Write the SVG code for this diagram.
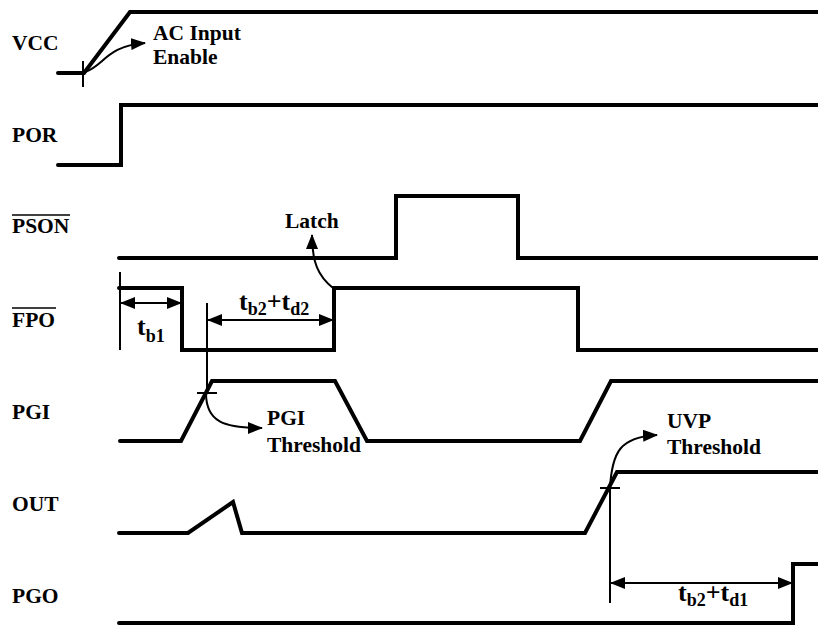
<svg xmlns="http://www.w3.org/2000/svg" width="818" height="626" viewBox="0 0 818 626">
<style>
.sig{fill:none;stroke:#000;stroke-width:4;stroke-linejoin:miter;stroke-linecap:round}
.thin{fill:none;stroke:#000;stroke-width:2}
.lbl{font-family:"Liberation Serif","Times New Roman",serif;font-weight:bold;font-size:21.5px;fill:#000}
.t{font-family:"Liberation Serif","Times New Roman",serif;font-weight:bold;font-size:26px;fill:#000}
.sub{font-size:18px}
</style>
<defs>
<marker id="ah" markerUnits="userSpaceOnUse" markerWidth="15" markerHeight="12" refX="14" refY="6" orient="auto-start-reverse">
<path d="M0,0 L15,6 L0,12 Z" fill="#000"/>
</marker>
</defs>
<rect width="818" height="626" fill="#fff"/>

<g id="VCC">
<text class="lbl" x="12" y="50">VCC</text>
<path class="sig" d="M58,73 L84,73 L130,12 L818,12"/>
</g>
<g id="POR">
<text class="lbl" x="12" y="142">POR</text>
<path class="sig" d="M58,165 L121,165 L121,105 L818,105"/>
</g>
<g id="PSON">
<text class="lbl" x="12" y="233">PSON</text>
<line x1="12" y1="215" x2="70" y2="215" stroke="#000" stroke-width="1.5"/>
<path class="sig" d="M119,258 L396,258 L396,196 L518,196 L518,258 L818,258"/>
</g>
<g id="FPO">
<text class="lbl" x="12" y="327">FPO</text>
<line x1="12" y1="308" x2="56" y2="308" stroke="#000" stroke-width="1.5"/>
<path class="sig" d="M119,288 L182,288 L182,350 L334,350 L334,288 L578,288 L578,350 L818,350"/>
</g>
<g id="PGI">
<text class="lbl" x="12" y="419">PGI</text>
<path class="sig" d="M120,441 L181,441 L212,381 L335,381 L367,441 L580,441 L611,381 L818,381"/>
</g>
<g id="OUT">
<text class="lbl" x="12" y="511">OUT</text>
<path class="sig" d="M119,533 L188,533 L233,502 L242,533 L585,533 L617,472 L818,472"/>
</g>
<g id="PGO">
<text class="lbl" x="12" y="603">PGO</text>
<path class="sig" d="M119,623 L793,623 L793,564 L818,564"/>
</g>

<g id="connectors">
<line class="thin" x1="83" y1="61" x2="83" y2="87"/>
<path class="thin" d="M85,72 C104,66 106,46 145,43" marker-end="url(#ah)"/>
<line class="thin" x1="120" y1="272" x2="120" y2="350"/>
<line class="thin" x1="121" y1="303" x2="181" y2="303" marker-start="url(#ah)" marker-end="url(#ah)"/>
<line class="thin" x1="207" y1="303" x2="207" y2="393"/>
<line class="thin" x1="208" y1="320" x2="333" y2="320" marker-start="url(#ah)" marker-end="url(#ah)"/>
<path class="thin" d="M333,288 C318,276 312,262 312,235" marker-end="url(#ah)"/>
<line class="thin" x1="197" y1="393" x2="217" y2="393"/>
<path class="thin" d="M206,393 C206,422 224,428 262,428" marker-end="url(#ah)"/>
<line class="thin" x1="600" y1="488" x2="620" y2="488"/>
<line class="thin" x1="610" y1="488" x2="610" y2="603"/>
<path class="thin" d="M610,488 C612,452 620,437 657,435" marker-end="url(#ah)"/>
<line class="thin" x1="611" y1="583" x2="792" y2="583" marker-start="url(#ah)" marker-end="url(#ah)"/>
</g>

<g id="labels">
<text class="lbl" x="153" y="40">AC Input</text>
<text class="lbl" x="153" y="64">Enable</text>
<text class="lbl" x="285" y="228">Latch</text>
<text class="lbl" x="267" y="425">PGI</text>
<text class="lbl" x="267" y="452">Threshold</text>
<text class="lbl" x="667" y="428">UVP</text>
<text class="lbl" x="667" y="454">Threshold</text>
<text class="t" x="137" y="335">t<tspan class="sub" dy="7">b1</tspan></text>
<text class="t" x="239" y="310">t<tspan class="sub" dy="5">b2</tspan><tspan dy="-5">+t</tspan><tspan class="sub" dy="5">d2</tspan></text>
<text class="t" x="678" y="601">t<tspan class="sub" dy="5">b2</tspan><tspan dy="-5">+t</tspan><tspan class="sub" dy="5">d1</tspan></text>
</g>
</svg>
